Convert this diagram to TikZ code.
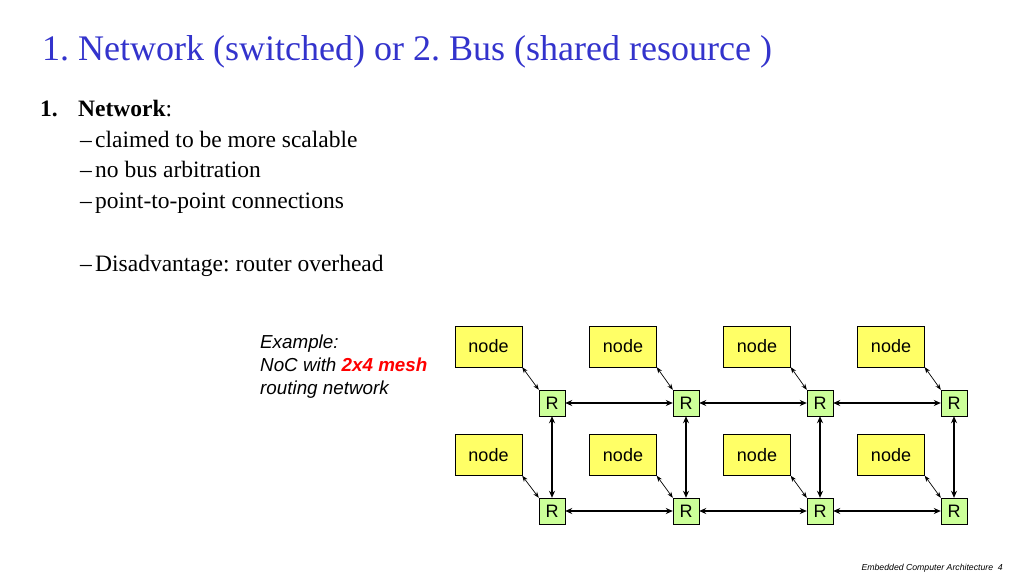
\documentclass[tikz,border=0pt]{standalone}
\usepackage{fontspec}
\setmainfont{Liberation Serif}
\setsansfont{Liberation Sans}
\usetikzlibrary{arrows.meta}
\frenchspacing
\definecolor{titleblue}{RGB}{51,51,204}
\definecolor{nodeyellow}{RGB}{255,255,102}
\definecolor{rgreen}{RGB}{204,255,153}
\definecolor{meshred}{RGB}{255,0,0}
\tikzset{
  procbox/.style={draw=black, fill=nodeyellow, minimum width=67pt, minimum height=41pt, inner sep=0pt, font=\sffamily\fontsize{18}{18}\selectfont},
  routbox/.style={draw=black, fill=rgreen, minimum width=26pt, minimum height=26pt, inner sep=0pt, font=\sffamily\fontsize{18}{18}\selectfont},
  thinlink/.style={{Stealth[length=6pt,width=4.5pt]}-{Stealth[length=6pt,width=4.5pt]}, line width=0.7pt},
  thicklink/.style={{Stealth[length=7pt,width=6pt]}-{Stealth[length=7pt,width=6pt]}, line width=1.6pt},
  bodytext/.style={anchor=base west, inner sep=0pt, font=\fontsize{23.5}{28}\selectfont},
  extext/.style={anchor=base west, inner sep=0pt, font=\sffamily\itshape\fontsize{18.8}{22}\selectfont},
}
\begin{document}
\begin{tikzpicture}[x=1pt, y=-1pt]
\useasboundingbox (0,0) rectangle (1024,576);
% title
\node[anchor=base west, inner sep=0pt, text=titleblue, font=\fontsize{36}{40}\selectfont] (title) at (42,60) {1. Network (switched) or 2. Bus (shared resource )};
% body
\node[bodytext] (num) at (40,116) {\textbf{1.}};
\node[bodytext] (net) at (78,116) {\textbf{Network}:};
\node[bodytext] (d1) at (80,147) {–};
\node[bodytext] (t1) at (95,147) {claimed to be more scalable};
\node[bodytext] (d2) at (80,177.5) {–};
\node[bodytext] (t2) at (95,177.5) {no bus arbitration};
\node[bodytext] (d3) at (80,208.5) {–};
\node[bodytext] (t3) at (95,208.5) {point-to-point connections};
\node[bodytext] (d4) at (80,271) {–};
\node[bodytext] (t4) at (95,271) {Disadvantage: router overhead};
% example text
\node[extext] (ex1) at (260,348) {Example:};
\node[extext] (ex2) at (260,371) {NoC with \textcolor{meshred}{\bfseries 2x4 mesh}};
\node[extext] (ex3) at (260,394) {routing network};
% nodes and routers
\foreach \i/\nx/\rx in {1/488.5/552, 2/623/686, 3/757/820, 4/891/954} {
  \node[procbox] (na\i) at (\nx,346.5) {node};
  \node[procbox] (nb\i) at (\nx,455) {node};
  \node[routbox] (ra\i) at (\rx,403) {R};
  \node[routbox] (rb\i) at (\rx,511) {R};
  \draw[thinlink] (na\i.south east) -- (ra\i.north west);
  \draw[thinlink] (nb\i.south east) -- (rb\i.north west);
  \draw[thicklink] (ra\i) -- (rb\i);
}
\foreach \i/\j in {1/2, 2/3, 3/4} {
  \draw[thicklink] (ra\i) -- (ra\j);
  \draw[thicklink] (rb\i) -- (rb\j);
}
% footer
\node[anchor=base east, inner sep=0pt, font=\sffamily\itshape\fontsize{8.7}{10}\selectfont] (foot) at (1003,570) {Embedded Computer Architecture\ \ 4};
\end{tikzpicture}
\end{document}
